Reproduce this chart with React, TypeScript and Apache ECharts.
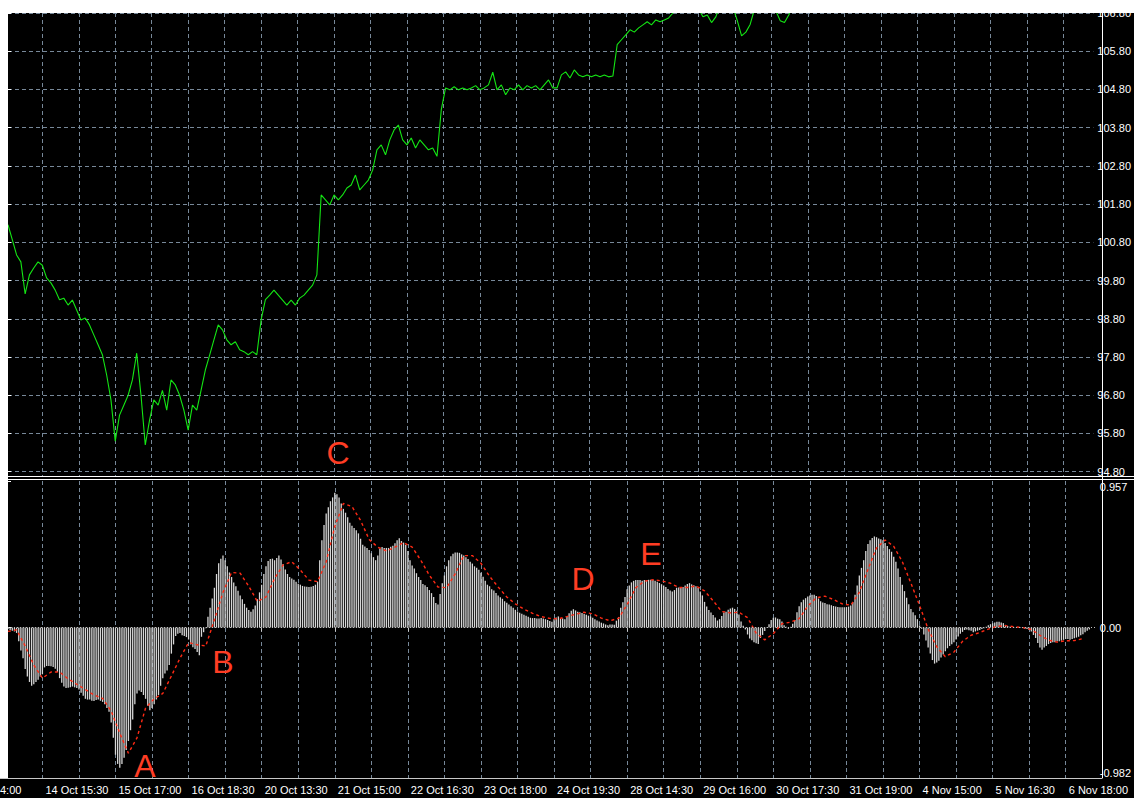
import React, { useEffect, useRef } from 'react';
import * as echarts from 'echarts';

// ---------- data ----------
const TIME_LABELS = [
  '14 Oct 15:30', '15 Oct 17:00', '16 Oct 18:30', '20 Oct 13:30', '21 Oct 15:00',
  '22 Oct 16:30', '23 Oct 18:00', '24 Oct 19:30', '28 Oct 14:30', '29 Oct 16:00',
  '30 Oct 17:30', '31 Oct 19:00', '4 Nov 15:00', '5 Nov 16:30', '6 Nov 18:00',
];
const CUT_LABEL = '4:00';
const PRICE_TICKS = [94.8, 95.8, 96.8, 97.8, 98.8, 99.8, 100.8, 101.8, 102.8, 103.8, 104.8, 105.8, 106.8];
const MACD_TICKS = [-0.982, 0, 0.957];

// close price, one point every 2 bars
const PRICE = [
  101.26, 100.87, 100.47, 100.29, 99.45, 99.95, 100.13, 100.29, 100.2, 99.87,
  99.74, 99.55, 99.3, 99.34, 99.16, 99.29, 99.03, 98.77, 98.82, 98.64,
  98.38, 98.12, 97.86, 97.33, 96.68, 95.6, 96.28, 96.54, 96.8, 97.2,
  97.9, 96.8, 95.5, 96.15, 96.68, 96.54, 96.93, 96.41, 97.2, 97.07,
  96.8, 96.41, 95.89, 96.54, 96.41, 96.93, 97.46, 97.85, 98.25, 98.64,
  98.51, 98.25, 98.12, 98.2, 97.99, 97.94, 97.86, 97.94, 97.86, 98.77,
  99.3, 99.42, 99.55, 99.42, 99.29, 99.16, 99.29, 99.16, 99.34, 99.42,
  99.55, 99.68, 99.95, 102.04, 101.91, 101.78, 102.04, 101.91, 102.04, 102.22,
  102.3, 102.56, 102.17, 102.3, 102.43, 102.69, 103.22, 103.35, 103.09, 103.48,
  103.74, 103.87, 103.48, 103.35, 103.53, 103.27, 103.48, 103.35, 103.22, 103.27,
  103.05, 104.27, 104.84, 104.79, 104.87, 104.79, 104.84, 104.79, 104.84, 104.9,
  104.79, 104.84, 104.92, 105.25, 104.79, 104.92, 104.66, 104.84, 104.79, 104.92,
  104.79, 104.9, 104.84, 104.9, 104.79, 104.92, 105.05, 104.84, 104.84, 105.18,
  105.26, 105.1, 105.31, 105.18, 105.13, 105.18, 105.13, 105.18, 105.13, 105.18,
  105.13, 105.15, 105.97, 106.1, 106.23, 106.36, 106.3, 106.41, 106.49, 106.57,
  106.49, 106.62, 106.57, 106.62, 106.67, 106.8, 107.0, 107.1, 107.0, 107.2,
  106.95, 106.9, 106.7, 106.75, 106.55, 106.7, 107.0, 107.2, 107.1, 106.95,
  106.6, 106.2, 106.3, 106.5, 106.9, 107.2, 107.1, 107.0, 106.95, 106.85,
  106.6, 106.55, 106.75, 107.0,
  107.1, 107.3, 107.2, 107.5, 107.4, 107.6, 107.8, 107.7, 107.9, 108.0, 107.8, 108.1, 108.2, 108.0, 108.3, 108.4,
  108.6, 109.2, 110.0, 110.8, 111.2, 111.0, 111.4, 111.6, 111.3, 111.8,
  112.2, 112.5, 112.3, 112.6, 112.8, 113.1, 113.4, 113.2, 113.6, 113.9,
  114.0, 114.2, 114.1, 113.8, 113.6, 113.9, 114.2, 114.5, 114.7, 114.6,
  114.9, 115.1, 114.8, 115.0, 115.2, 115.4, 115.1, 114.9, 115.2, 115.5,
  115.3, 115.6, 115.8, 115.5, 115.7, 115.9, 115.6, 115.4, 115.7, 115.9,
  116.1, 115.8,
];

// MACD main line (histogram), one value per bar
const MACD = [
  -0.01, -0.015, -0.02, -0.025, -0.035, -0.09, -0.15, -0.2, -0.27, -0.32,
  -0.355, -0.38, -0.37, -0.355, -0.34, -0.32, -0.305, -0.26, -0.25, -0.25,
  -0.252, -0.258, -0.268, -0.29, -0.33, -0.36, -0.385, -0.395, -0.393, -0.39,
  -0.385, -0.39, -0.395, -0.405, -0.425, -0.445, -0.465, -0.47, -0.47, -0.478,
  -0.48, -0.472, -0.47, -0.478, -0.485, -0.5, -0.525, -0.55, -0.62, -0.72,
  -0.83, -0.89, -0.915, -0.89, -0.85, -0.8, -0.74, -0.67, -0.6, -0.5,
  -0.43, -0.41, -0.42, -0.44, -0.465, -0.51, -0.54, -0.525, -0.5, -0.47,
  -0.44, -0.38, -0.33, -0.3, -0.28, -0.245, -0.17, -0.11, -0.055, -0.04,
  -0.035, -0.05, -0.055, -0.062, -0.078, -0.11, -0.128, -0.14, -0.16, -0.18,
  -0.06, -0.03, -0.005, 0.07, 0.13, 0.19, 0.26, 0.35, 0.42, 0.45,
  0.47, 0.44, 0.4, 0.36, 0.33, 0.295, 0.27, 0.24, 0.21, 0.185,
  0.155, 0.13, 0.115, 0.103, 0.12, 0.145, 0.185, 0.23, 0.28, 0.35,
  0.4, 0.435, 0.448, 0.45, 0.44, 0.455, 0.47, 0.445, 0.415, 0.38,
  0.35, 0.33, 0.32, 0.312, 0.3, 0.287, 0.28, 0.272, 0.268, 0.266,
  0.265, 0.267, 0.272, 0.28, 0.3, 0.44, 0.57, 0.67, 0.745, 0.785,
  0.825, 0.85, 0.88, 0.87, 0.85, 0.81, 0.775, 0.75, 0.72, 0.685,
  0.665, 0.65, 0.636, 0.615, 0.58, 0.54, 0.53, 0.52, 0.506, 0.485,
  0.46, 0.44, 0.47, 0.515, 0.526, 0.52, 0.52, 0.52, 0.528, 0.535,
  0.55, 0.57, 0.583, 0.565, 0.555, 0.54, 0.5, 0.44, 0.405, 0.385,
  0.355, 0.33, 0.31, 0.285, 0.277, 0.265, 0.245, 0.225, 0.2, 0.16,
  0.15, 0.22, 0.29, 0.34, 0.4, 0.44, 0.465, 0.482, 0.49, 0.49,
  0.488, 0.478, 0.47, 0.46, 0.448, 0.43, 0.418, 0.4, 0.39, 0.378,
  0.358, 0.332, 0.305, 0.28, 0.27, 0.25, 0.242, 0.226, 0.21, 0.198,
  0.188, 0.172, 0.162, 0.15, 0.14, 0.13, 0.116, 0.105, 0.097, 0.09,
  0.084, 0.078, 0.07, 0.064, 0.062, 0.062, 0.06, 0.06, 0.062, 0.06,
  0.055, 0.05, 0.043, 0.038, 0.055, 0.066, 0.073, 0.056, 0.06, 0.055,
  0.072, 0.094, 0.11, 0.12, 0.112, 0.104, 0.1, 0.095, 0.089, 0.083,
  0.078, 0.073, 0.064, 0.055, 0.047, 0.04, 0.032, 0.027, 0.02, 0.016,
  0.02, 0.02, 0.018, 0.045, 0.068, 0.13, 0.165, 0.2, 0.25, 0.275,
  0.295, 0.305, 0.31, 0.31, 0.31, 0.306, 0.31, 0.31, 0.312, 0.312,
  0.311, 0.306, 0.299, 0.291, 0.283, 0.275, 0.265, 0.252, 0.242, 0.235,
  0.245, 0.26, 0.262, 0.262, 0.265, 0.275, 0.285, 0.29, 0.282, 0.277,
  0.27, 0.258, 0.235, 0.21, 0.168, 0.138, 0.114, 0.098, 0.082, 0.066,
  0.046, 0.055, 0.075, 0.098, 0.103, 0.116, 0.125, 0.13, 0.122, 0.11,
  0.085, 0.04, 0.012, -0.012, -0.045, -0.072, -0.082, -0.095, -0.102, -0.107,
  -0.068, -0.048, -0.022, -0.002, 0.022, 0.05, 0.064, 0.066, 0.058, 0.055,
  0.04, 0.015, 0.006, -0.008, 0.005, 0.025, 0.05, 0.1, 0.14, 0.165,
  0.182, 0.192, 0.203, 0.21, 0.215, 0.215, 0.206, 0.19, 0.172, 0.164,
  0.16, 0.153, 0.15, 0.146, 0.141, 0.138, 0.134, 0.133, 0.133, 0.133,
  0.133, 0.137, 0.144, 0.165, 0.215, 0.275, 0.34, 0.39, 0.44, 0.5,
  0.545, 0.57, 0.585, 0.595, 0.59, 0.582, 0.576, 0.57, 0.552, 0.532,
  0.512, 0.495, 0.463, 0.43, 0.385, 0.33, 0.28, 0.238, 0.195, 0.152,
  0.122, 0.1, 0.081, 0.055, 0.014, -0.008, -0.045, -0.085, -0.13, -0.17,
  -0.212, -0.235, -0.228, -0.216, -0.196, -0.175, -0.155, -0.135, -0.12, -0.108,
  -0.095, -0.078, -0.058, -0.04, -0.028, -0.016, -0.012, -0.017, -0.021, -0.03,
  -0.025, -0.02, -0.015, -0.01, -0.005, 0.005, 0.016, 0.022, 0.028, 0.033,
  0.038, 0.038, 0.034, 0.029, 0.018, 0.01, 0.005, 0.001, 0.003, 0.003,
  0.001, 0.003, 0.001, -0.008, -0.01, -0.016, -0.025, -0.048, -0.068, -0.1,
  -0.13, -0.145, -0.13, -0.12, -0.108, -0.1, -0.096, -0.095, -0.09, -0.09,
  -0.085, -0.08, -0.075, -0.075, -0.08, -0.075, -0.07, -0.065, -0.06, -0.05,
  -0.044, -0.03, -0.02, -0.012,
];

// MACD signal line, one point every 4 bars
const SIGNAL = [
  -0.025, -0.015, -0.12, -0.245, -0.33, -0.29, -0.29, -0.335, -0.37, -0.405,
  -0.44, -0.462, -0.545, -0.69, -0.82, -0.72, -0.525, -0.465, -0.43, -0.316,
  -0.2, -0.098, -0.112, -0.12, 0.05, 0.23, 0.36, 0.355, 0.27, 0.17,
  0.2, 0.32, 0.41, 0.43, 0.375, 0.31, 0.3, 0.43, 0.66, 0.81,
  0.79, 0.7, 0.575, 0.525, 0.5, 0.525, 0.555, 0.525, 0.44, 0.342,
  0.265, 0.26, 0.35, 0.47, 0.47, 0.42, 0.335, 0.265, 0.2, 0.155,
  0.12, 0.093, 0.072, 0.06, 0.057, 0.072, 0.087, 0.1, 0.09, 0.062,
  0.045, 0.06, 0.15, 0.26, 0.303, 0.312, 0.305, 0.29, 0.262, 0.262,
  0.272, 0.24, 0.175, 0.105, 0.096, 0.1, 0.065, -0.036, -0.08, -0.04,
  0.025, 0.035, 0.058, 0.14, 0.195, 0.205, 0.183, 0.155, 0.146, 0.23,
  0.38, 0.52, 0.572, 0.53, 0.43, 0.29, 0.145, -0.01, -0.125, -0.19,
  -0.16, -0.09, -0.05, -0.032, -0.01, 0.008, 0.013, 0.005, 0, -0.012,
  -0.05, -0.082, -0.095, -0.086, -0.085, -0.072,
];

const MARKS = ['A', 'B', 'C', 'D', 'E'];

// ---------- layout constants ----------
const N_BARS = 507;
const FIRST_LINE = 16;
const GRID_EVERY = 17;
const LABEL_EVERY = 34;
const PRICE_STEP = 2;
const SIGNAL_STEP = 4;
const FONT = "'Liberation Sans', Arial, sans-serif";

const isGridIdx = (i: number) => i >= FIRST_LINE && (i - FIRST_LINE) % GRID_EVERY === 0;
const isLabelIdx = (i: number) => i >= FIRST_LINE && (i - FIRST_LINE) % LABEL_EVERY === 0;

const CATEGORIES = Array.from({ length: N_BARS }, (_, i) => {
  if (!isLabelIdx(i)) return '';
  const m = (i - FIRST_LINE) / LABEL_EVERY;
  return TIME_LABELS[m] ?? '';
});

export default function App() {
  const ref = useRef<HTMLDivElement>(null);
  useEffect(() => {
    if (!ref.current) return;
    const chart = echarts.init(ref.current, undefined, { renderer: 'svg' });
    const gridLine = { color: '#778899', type: [4, 3] as any, width: 1 };
    const markPos: Record<string, [number, number]> = {
      A: [145, 766], B: [223, 662], C: [338, 453], D: [583, 579], E: [651, 554],
    };
    chart.setOption({
      animation: false,
      backgroundColor: '#000000',
      grid: [
        { left: 8, top: 13, width: 1094, height: 463 },
        { left: 8, top: 481, width: 1094, height: 297 },
      ],
      xAxis: [
        {
          type: 'category', gridIndex: 0, data: CATEGORIES, boundaryGap: false,
          axisLine: { show: false }, axisTick: { show: false }, axisLabel: { show: false },
          splitLine: { show: true, interval: (i: number) => isGridIdx(i), lineStyle: gridLine },
        },
        {
          type: 'category', gridIndex: 1, data: CATEGORIES, boundaryGap: false,
          axisLine: { show: false },
          axisTick: { show: true, interval: (i: number) => isLabelIdx(i), length: 4, lineStyle: { color: '#c8c8c8' } },
          axisLabel: {
            show: true, interval: (i: number) => isLabelIdx(i), align: 'left', padding: [0, 0, 0, 3],
            margin: 6, color: '#ffffff', fontSize: 11, fontFamily: FONT,
          },
          splitLine: { show: true, interval: (i: number) => isGridIdx(i), lineStyle: gridLine },
        },
        { type: 'value', gridIndex: 0, min: 0, max: N_BARS - 1, show: false },
        { type: 'value', gridIndex: 1, min: 0, max: N_BARS - 1, show: false },
      ],
      yAxis: [
        {
          type: 'value', gridIndex: 0, position: 'right', min: 94.6875, max: 106.8, scale: true,
          axisLine: { show: false },
          axisTick: { show: true, customValues: PRICE_TICKS, length: 3, lineStyle: { color: '#ffffff' } },
          axisLabel: {
            customValues: PRICE_TICKS, formatter: (v: number) => v.toFixed(2),
            margin: 4, color: '#ffffff', fontSize: 11, fontFamily: FONT,
          },
          splitLine: { show: true, lineStyle: gridLine },
        },
        {
          type: 'value', gridIndex: 1, position: 'right', min: -0.982, max: 0.957, scale: true,
          axisLine: { show: false },
          axisTick: { show: true, customValues: MACD_TICKS, length: 3, lineStyle: { color: '#ffffff' } },
          axisLabel: {
            customValues: MACD_TICKS,
            formatter: (v: number) => (Math.abs(v) < 1e-9 ? '0.00' : v.toFixed(3)),
            verticalAlignMinLabel: 'bottom', verticalAlignMaxLabel: 'top',
            margin: 4, color: '#ffffff', fontSize: 11, fontFamily: FONT,
          },
          splitLine: { show: false },
        },
      ],
      series: [
        {
          type: 'bar', xAxisIndex: 1, yAxisIndex: 1, data: MACD, barWidth: 1.3,
          itemStyle: { color: '#d6d6d6' }, z: 2,
          markLine: {
            silent: true, symbol: 'none', label: { show: false },
            lineStyle: { color: '#c0c0c0', type: [1, 2], width: 1 },
            data: [{ yAxis: 0 }],
          },
        },
        {
          type: 'line', xAxisIndex: 3, yAxisIndex: 1,
          data: SIGNAL.map((v, k) => [k * SIGNAL_STEP, v]),
          symbol: 'none', lineStyle: { color: '#ff2a14', width: 1.4, type: [3, 3] }, z: 4,
        },
        {
          type: 'line', xAxisIndex: 2, yAxisIndex: 0,
          data: PRICE.map((v, j) => [j * PRICE_STEP, v]),
          symbol: 'none', lineStyle: { color: '#14e614', width: 1.1 }, z: 4,
        },
      ],
      graphic: [
        { type: 'rect', shape: { x: 0, y: 0, width: 1134, height: 13 }, style: { fill: '#ffffff' }, z: 100, silent: true },
        { type: 'rect', shape: { x: 0, y: 0, width: 8, height: 778 }, style: { fill: '#ffffff' }, z: 100, silent: true },
        { type: 'line', shape: { x1: 8, y1: 476.5, x2: 1134, y2: 476.5 }, style: { stroke: '#ffffff', lineWidth: 1 }, z: 50, silent: true },
        { type: 'line', shape: { x1: 8, y1: 479.5, x2: 1134, y2: 479.5 }, style: { stroke: '#ffffff', lineWidth: 1 }, z: 50, silent: true },
        { type: 'line', shape: { x1: 1102.5, y1: 13, x2: 1102.5, y2: 778 }, style: { stroke: '#ffffff', lineWidth: 1 }, z: 50, silent: true },
        { type: 'line', shape: { x1: 0, y1: 778.5, x2: 1102.5, y2: 778.5 }, style: { stroke: '#c8c8c8', lineWidth: 1 }, z: 50, silent: true },
        {
          type: 'text', x: 0, y: 784, z: 50, silent: true,
          style: { text: CUT_LABEL, fill: '#ffffff', fontSize: 11, fontFamily: FONT, align: 'left', verticalAlign: 'top' },
        },
        ...MARKS.map((m) => ({
          type: 'text', x: markPos[m][0], y: markPos[m][1], z: 60, silent: true,
          style: { text: m, fill: '#ff3d24', fontSize: 32, fontFamily: FONT, align: 'center', verticalAlign: 'middle' },
        })),
      ],
    });
    return () => chart.dispose();
  }, []);
  return <div ref={ref} style={{ position: 'fixed', left: 0, top: 0, width: 1134, height: 798 }} />;
}
